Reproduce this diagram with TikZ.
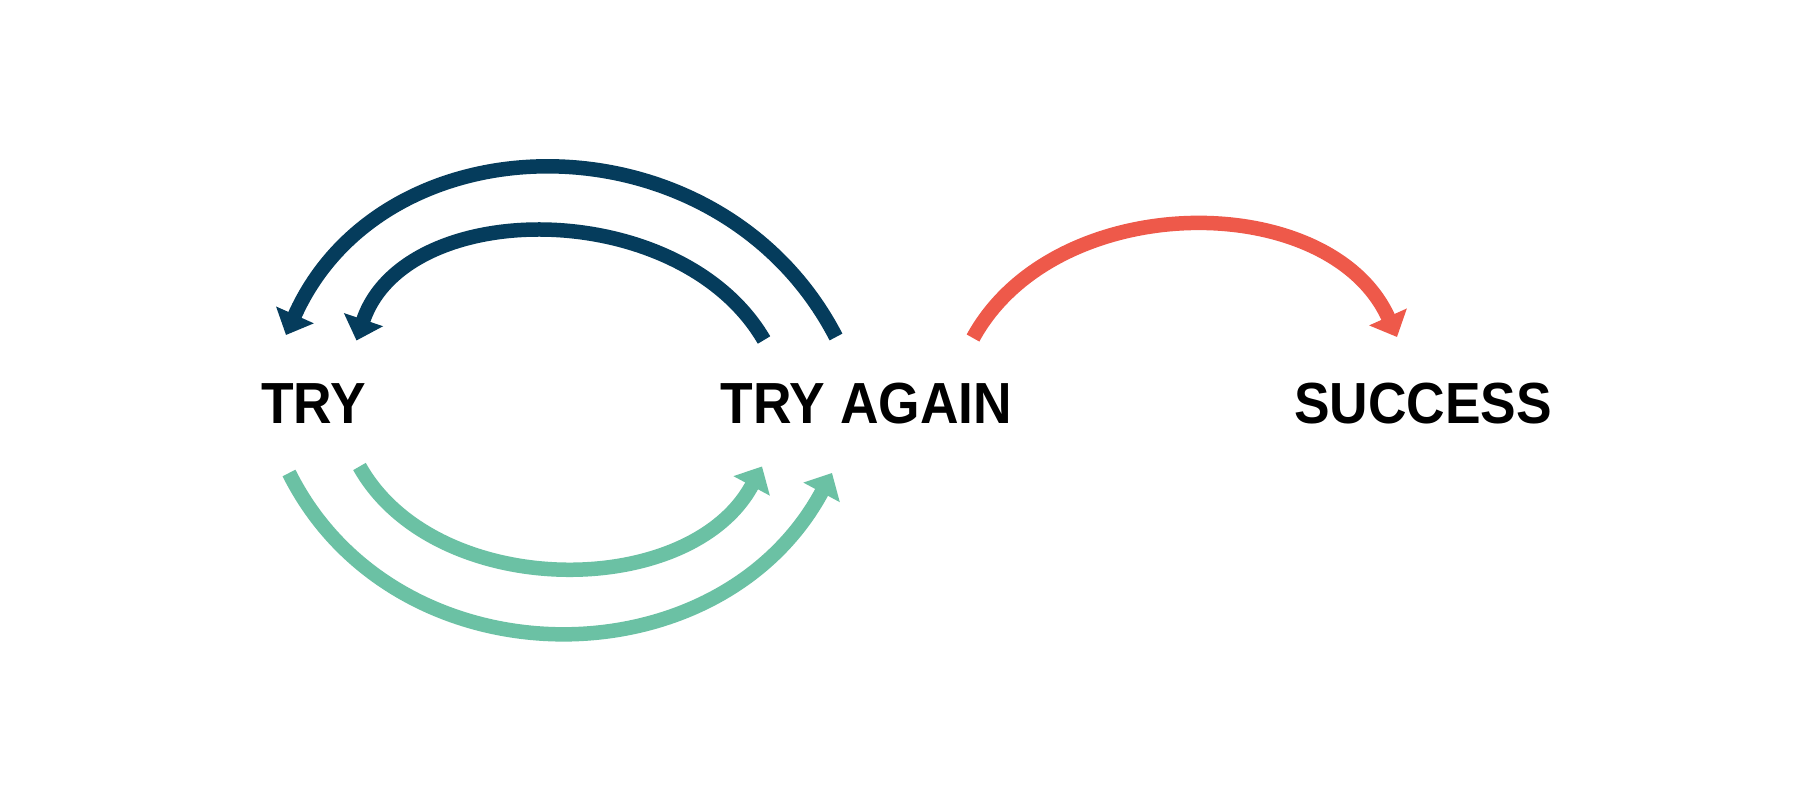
\documentclass[tikz,border=0pt]{standalone}
\usepackage{fontspec}
\setmainfont{Liberation Sans}
\usetikzlibrary{arrows.meta}
\definecolor{navy}{HTML}{053C5C}
\definecolor{mint}{HTML}{6BC1A4}
\definecolor{coral}{HTML}{EE594A}
\begin{document}
\begin{tikzpicture}[x=1pt,y=-1pt,
  lbl/.style={font=\fontsize{58}{60}\selectfont\bfseries, inner sep=0pt, anchor=base, xscale=0.92},
  arcline/.style={line width=14.5pt, -{Triangle[width=40pt,length=22pt]}}]
\useasboundingbox (0,0) rectangle (1800,800);
\fill[white] (0,0) rectangle (1800,800);
% labels
\node[lbl] (try) at (313.5,423) {TRY};
\node[lbl] (again) at (866.5,423) {TRY AGAIN};
\node[lbl] (success) at (1423,423) {SUCCESS};
% end points
\coordinate (n1s) at (836,337);
\coordinate (n1e) at (286,335);
\coordinate (n2s) at (764,340);
\coordinate (n2e) at (356.5,340.5);
\coordinate (g1s) at (289,473);
\coordinate (g1e) at (832,473);
\coordinate (g2s) at (359.5,466.5);
\coordinate (g2e) at (762,466.5);
\coordinate (r1s) at (973,338);
\coordinate (r1e) at (1397,337);
% navy arcs: TRY AGAIN -> TRY
\draw[arcline, navy] (n1s) .. controls (720,113) and (385,113) .. (n1e);
\draw[arcline, navy] (n2s) .. controls (680,196) and (405,196) .. (n2e);
% mint arcs: TRY -> TRY AGAIN
\draw[arcline, mint] (g1s) .. controls (395,685) and (718,685) .. (g1e);
\draw[arcline, mint] (g2s) .. controls (435,601) and (690,601) .. (g2e);
% coral arc: TRY AGAIN -> SUCCESS
\draw[arcline, coral] (r1s) .. controls (1055,188) and (1330,188) .. (r1e);
\end{tikzpicture}
\end{document}
